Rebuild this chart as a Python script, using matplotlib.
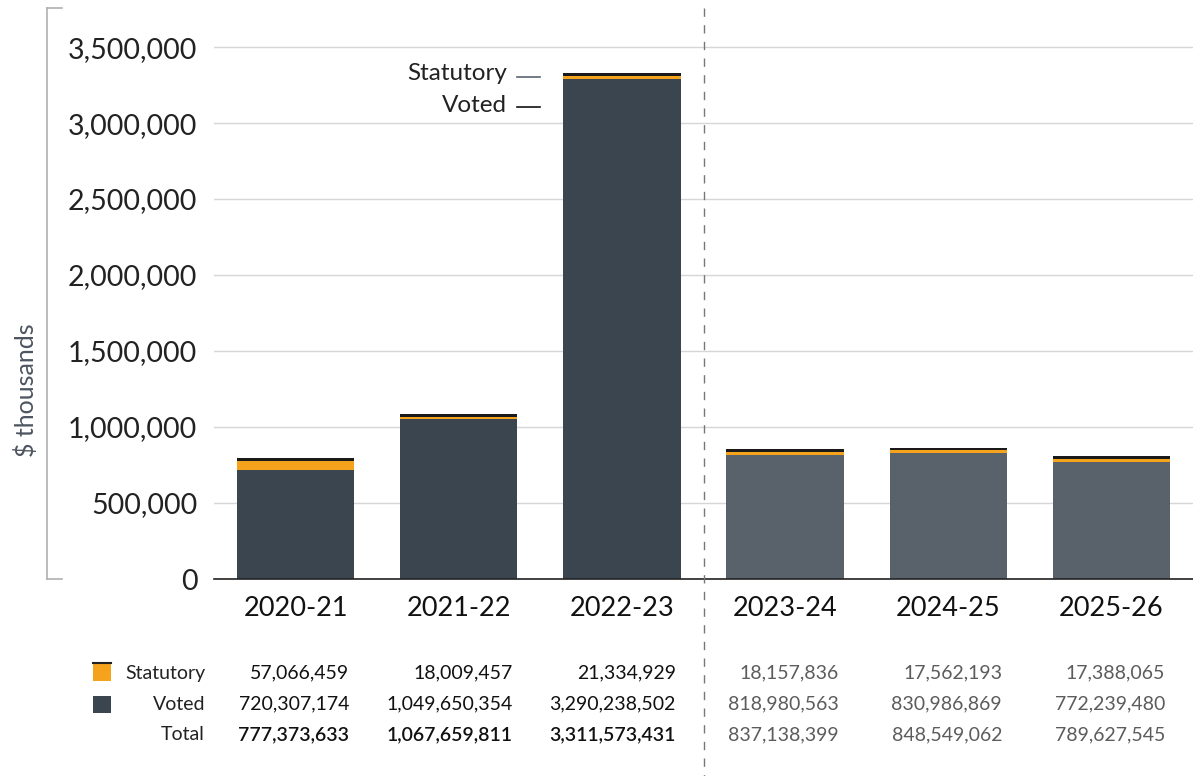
import matplotlib
matplotlib.use("Agg")
import matplotlib.pyplot as plt
from matplotlib.lines import Line2D
from matplotlib.patches import Rectangle
import matplotlib.transforms as mtransforms

# data (dollars)
years = ["2020-21", "2021-22", "2022-23", "2023-24", "2024-25", "2025-26"]
statutory = [57066459, 18009457, 21334929, 18157836, 17562193, 17388065]
voted = [720307174, 1049650354, 3290238502, 818980563, 830986869, 772239480]
total = [777373633, 1067659811, 3311573431, 837138399, 848549062, 789627545]
n_actual = 3  # first three years are actuals, rest are forecasts
yticks = [0, 500000, 1000000, 1500000, 2000000, 2500000, 3000000, 3500000]

# colours
ORANGE = "#f5a31d"
DARK = "#3b4550"
LIGHT = "#59626b"
GRID = "#d6d6d6"

plt.rcParams["font.family"] = ["Lato", "DejaVu Sans"]

W, H = 1193, 776
fig = plt.figure(figsize=(W / 100, H / 100), dpi=100)

def fx(px):
    return px / W

def fy(py):
    return 1 - py / H

ax = fig.add_axes([fx(214), fy(579), fx(1193) - fx(214), fy(8) - fy(579)])
YMAX = 3757000

xs = list(range(len(years)))
vk = [v / 1000 for v in voted]
sk = [s / 1000 for s in statutory]
tk = [t / 1000 for t in total]
bw = 0.72
vcol = [DARK if i < n_actual else LIGHT for i in xs]

# thin black cap sitting on top of each stack (about 2.5 px tall)
cap = YMAX / (579 - 8) * 2.5

ax.bar(xs, vk, width=bw, color=vcol, zorder=3)
ax.bar(xs, sk, width=bw, bottom=vk, color=ORANGE, zorder=3)
ax.bar(xs, [cap] * len(xs), width=bw, bottom=tk, color="#1a1a1a", zorder=3)

ax.set_xlim(-0.5, 5.5)
ax.set_ylim(0, YMAX)
ax.set_yticks(yticks)
ax.set_yticklabels([f"{t:,}" for t in yticks], fontsize=20.5, color="#222222")
ax.tick_params(axis="y", length=0, pad=12)
ax.set_xticks(xs)
ax.set_xticklabels(years, fontsize=19.5, color="#111111")
ax.tick_params(axis="x", length=0, pad=12)
ax.grid(axis="y", color=GRID, lw=1, zorder=0)
for s in ["top", "right", "left"]:
    ax.spines[s].set_visible(False)
ax.spines["bottom"].set_color("#222222")
ax.spines["bottom"].set_linewidth(1.2)
ax.spines["bottom"].set_zorder(5)

# y-axis title and bracket
fig.text(fx(26), fy(390), "$ thousands", rotation=90, ha="center", va="center",
         fontsize=18, color="#4d5560")
fig.add_artist(Line2D([fx(47), fx(47)], [fy(8), fy(579)], color="#b0b0b0", lw=1.2))
fig.add_artist(Line2D([fx(47), fx(62)], [fy(8), fy(8)], color="#b0b0b0", lw=1.2))
fig.add_artist(Line2D([fx(47), fx(62)], [fy(579), fy(579)], color="#b0b0b0", lw=1.2))

# dashed separator between actuals and forecast
sep = mtransforms.blended_transform_factory(ax.transData, fig.transFigure)
fig.add_artist(Line2D([n_actual - 0.5, n_actual - 0.5], [fy(8), 0], transform=sep,
                      color="#777777", lw=1, ls=(0, (6, 6))))

# in-chart labels
fig.text(fx(507), fy(73), "Statutory", ha="right", va="center", fontsize=17.5, color="#222222")
fig.text(fx(507), fy(105), "Voted", ha="right", va="center", fontsize=17.5, color="#222222")
fig.add_artist(Line2D([fx(517), fx(540)], [fy(77), fy(77)], color="#5a6473", lw=1.2))
fig.add_artist(Line2D([fx(517), fx(540)], [fy(107), fy(107)], color="#111111", lw=1.2))

# data table
row_y = [fy(673), fy(704), fy(735)]
rows = [("Statutory", statutory), ("Voted", voted), ("Total", total)]
for r, (name, vals) in enumerate(rows):
    fig.text(fx(205), row_y[r], name, ha="right", va="center", fontsize=14,
             color="#222222")
    for i, v in enumerate(vals):
        if i < n_actual:
            col = "#111111"
            wt = "semibold" if name == "Total" else "normal"
        else:
            col = "#5c5c5c"
            wt = "normal"
        fig.text(i + 0.33, row_y[r], f"{v:,}", transform=sep, ha="right", va="center",
                 fontsize=14, color=col, fontweight=wt)

fig.add_artist(Rectangle((fx(93), fy(681)), fx(18), fy(663) - fy(681),
                         facecolor=ORANGE, edgecolor="none"))
fig.add_artist(Line2D([fx(93), fx(111)], [fy(663), fy(663)], color="#222222", lw=1.5))
fig.add_artist(Rectangle((fx(93), fy(713)), fx(18), fy(696) - fy(713),
                         facecolor=DARK, edgecolor="none"))

fig.savefig("out.png", dpi=100)
